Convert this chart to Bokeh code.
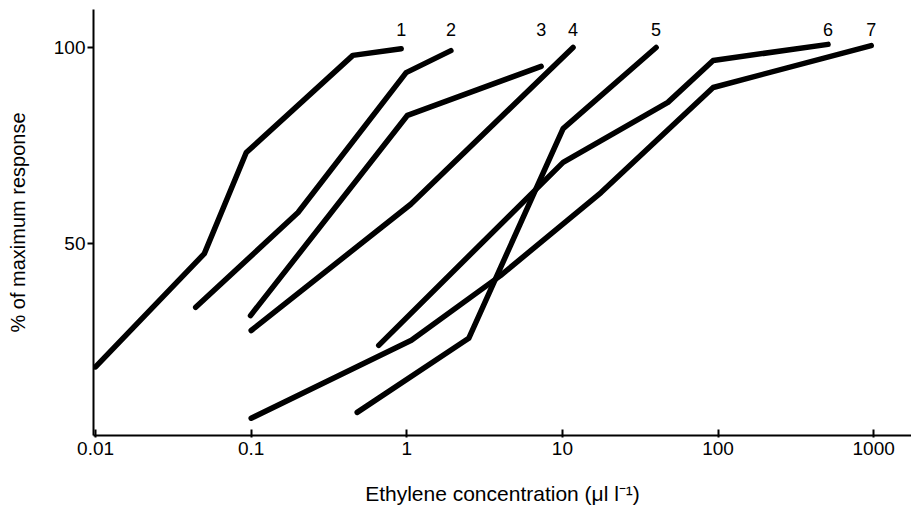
from bokeh.plotting import figure
from bokeh.models import FixedTicker, Range1d, ColumnDataSource
from bokeh.core.properties import value
from bokeh.embed import file_html
from bokeh.resources import INLINE

# Dose-response curves: ethylene concentration (ul/l) vs % of maximum response
curve_names = ["1", "2", "3", "4", "5", "6", "7"]

c1_x = [0.01, 0.05, 0.093, 0.45, 0.92]
c1_y = [18.5, 47.4, 73.2, 98.0, 99.7]

c2_x = [0.044, 0.2, 0.99, 1.92]
c2_y = [33.7, 57.9, 93.6, 99.2]

c3_x = [0.099, 1.01, 7.3]
c3_y = [31.6, 82.7, 95.2]

c4_x = [0.1, 1.06, 11.7]
c4_y = [27.8, 60.0, 100.0]

c5_x = [0.48, 2.5, 10.1, 40.0]
c5_y = [6.9, 25.8, 79.3, 100.0]

c6_x = [0.66, 10.1, 47.6, 93.0, 509.0]
c6_y = [24.0, 70.7, 86.0, 96.7, 100.8]

c7_x = [0.1, 1.07, 4.0, 17.7, 93.0, 964.0]
c7_y = [5.4, 25.3, 41.8, 63.0, 89.8, 100.5]

x_ticks = [0.01, 0.1, 1, 10, 100, 1000]
x_tick_labels = ["0.01", "0.1", "1", "10", "100", "1000"]
y_ticks = [50, 100]

curves = [(c1_x, c1_y), (c2_x, c2_y), (c3_x, c3_y), (c4_x, c4_y),
          (c5_x, c5_y), (c6_x, c6_y), (c7_x, c7_y)]

FONT = "Liberation Sans"

p = figure(width=911, height=523, x_axis_type="log",
           x_range=Range1d(0.0097, 1750), y_range=Range1d(1.0, 109.7),
           output_backend="svg", toolbar_location=None,
           min_border_left=93, min_border_right=0,
           min_border_top=9, min_border_bottom=88)

p.grid.visible = False
p.outline_line_color = None
p.background_fill_color = "white"
p.border_fill_color = "white"

for xs, ys in curves:
    p.line(xs, ys, line_color="black", line_width=5.5,
           line_join="round", line_cap="round")

# curve numbers in a row above the curve ends
label_row_y = 104.6
label_src = ColumnDataSource(dict(
    x=[xs[-1] for xs, _ in curves],
    y=[label_row_y] * len(curves),
    text=curve_names,
))
p.text(x="x", y="y", text="text", source=label_src,
       text_font=value(FONT), text_font_size="18px",
       text_align="center", text_baseline="middle", text_color="black")

xa = p.xaxis[0]
xa.ticker = FixedTicker(ticks=x_ticks)
xa.major_label_overrides = {t: s for t, s in zip(x_ticks, x_tick_labels)}
xa.minor_tick_line_color = None
xa.major_tick_in = 6
xa.major_tick_out = 2
xa.major_label_standoff = 4
xa.axis_line_width = 2
xa.major_tick_line_width = 2
xa.axis_label = "Ethylene concentration (\u03bcl l\u207b\u00b9)"
xa.axis_label_standoff = 24
xa.axis_label_text_font_style = "normal"

ya = p.yaxis[0]
ya.ticker = FixedTicker(ticks=y_ticks)
ya.minor_tick_line_color = None
ya.major_tick_in = 0
ya.major_tick_out = 6
ya.major_label_standoff = 2
ya.axis_line_width = 2
ya.major_tick_line_width = 2
ya.axis_label = "% of maximum response"
ya.axis_label_standoff = 22
ya.axis_label_text_font_style = "normal"

for ax in (xa, ya):
    ax.axis_line_color = "black"
    ax.major_tick_line_color = "black"
    ax.major_label_text_font = FONT
    ax.major_label_text_font_size = "19px"
    ax.major_label_text_color = "black"
    ax.axis_label_text_font = FONT
    ax.axis_label_text_color = "black"

xa.axis_label_text_font_size = "21px"
ya.axis_label_text_font_size = "20px"

open("out.html", "w").write(file_html(p, INLINE))
